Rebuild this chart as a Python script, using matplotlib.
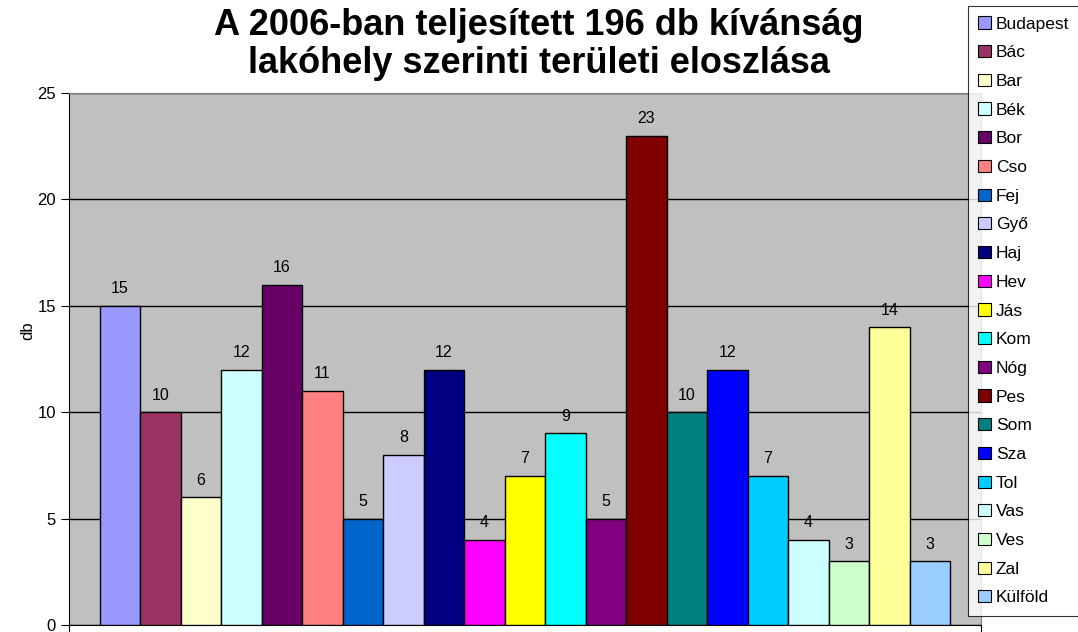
import numpy as np
from matplotlib import pyplot as plt
from matplotlib.patches import Patch

plt.rcParams['font.family'] = ['Liberation Sans', 'DejaVu Sans']

# megyek (legend order = bar order)
labels = ["Budapest", "Bác", "Bar", "Bék", "Bor", "Cso", "Fej", "Győ", "Haj", "Hev",
          "Jás", "Kom", "Nóg", "Pes", "Som", "Sza", "Tol", "Vas", "Ves", "Zal", "Külföld"]
values = [15, 10, 6, 12, 16, 11, 5, 8, 12, 4, 7, 9, 5, 23, 10, 12, 7, 4, 3, 14, 3]
colors = ["#9999FF", "#993366", "#FFFFCC", "#CCFFFF", "#660066", "#FF8080", "#0066CC",
          "#CCCCFF", "#000080", "#FF00FF", "#FFFF00", "#00FFFF", "#800080", "#800000",
          "#008080", "#0000FF", "#00CCFF", "#CCFFFF", "#CCFFCC", "#FFFF99", "#99CCFF"]

W, H = 1078, 632
fig = plt.figure(figsize=(W / 100, H / 100), dpi=100)
ax = fig.add_axes([69 / W, 1 - 625 / H, (981 - 69) / W, (625 - 93) / H])
ax.set_facecolor("#C0C0C0")

x = np.arange(len(values))
ax.bar(x, values, width=1.0, color=colors, edgecolor="black", linewidth=1.0, zorder=3)

for xi, v in zip(x, values):
    ax.text(xi, v + 0.45, str(v), ha="center", va="bottom", fontsize=11.5, zorder=4)

gap = 0.76
ax.set_xlim(-0.5 - gap, len(values) - 0.5 + gap)
ax.set_ylim(0, 25)
ax.set_yticks([0, 5, 10, 15, 20, 25])
ax.yaxis.grid(True, color="black", linewidth=1.0, zorder=1)
ax.tick_params(axis="y", labelsize=12, direction="out", length=6, color="black")
ax.set_xticks([-0.5 - gap, len(values) - 0.5 + gap])
ax.set_xticklabels([])
ax.tick_params(axis="x", direction="out", length=7)

for s in ["top", "right"]:
    ax.spines[s].set_color("#808080")
for s in ["left", "bottom"]:
    ax.spines[s].set_color("black")

ax.set_ylabel("db", fontsize=12)
ax.yaxis.set_label_coords(-0.037, 0.553)

fig.text(0.5, 0.987, "A 2006-ban teljesített 196 db kívánság\nlakóhely szerinti területi eloszlása",
         ha="center", va="top", fontsize=26, fontweight="bold", linespacing=1.09)

handles = [Patch(facecolor=c, edgecolor="black", linewidth=0.8) for c in colors]
leg = fig.legend(handles, labels, loc="upper left", bbox_to_anchor=(968 / W, 1 - 6 / H),
                 fontsize=12.5, frameon=True, fancybox=False, edgecolor="black",
                 handlelength=0.7, handleheight=0.7, handletextpad=0.3,
                 labelspacing=0.78, borderpad=0.6, borderaxespad=0)
leg.get_frame().set_linewidth(0.8)

plt.savefig("out.png", dpi=100)
